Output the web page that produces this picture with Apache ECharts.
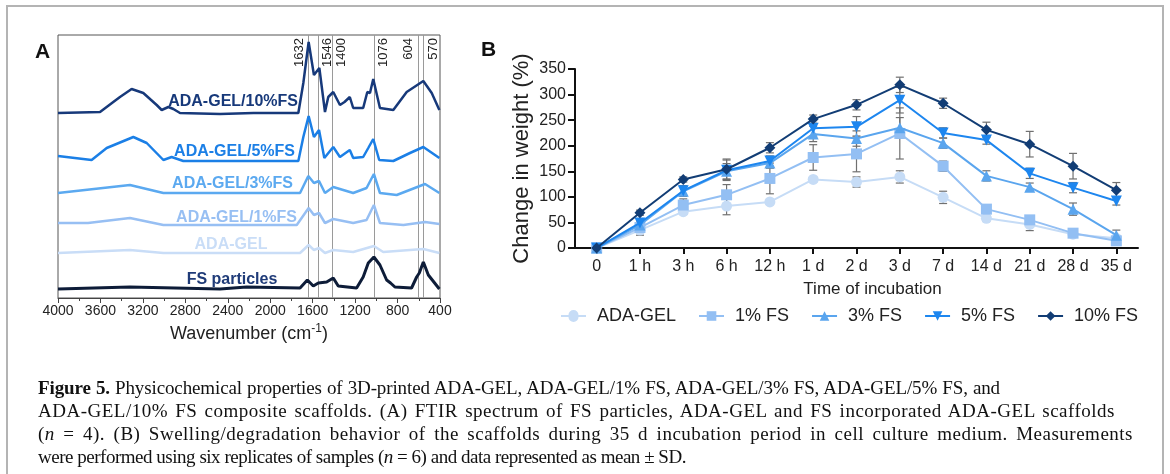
<!DOCTYPE html>
<html><head><meta charset="utf-8">
<script src="https://cdn.jsdelivr.net/npm/echarts/dist/echarts.min.js"></script>
<style>
html,body{margin:0;padding:0;background:#fff;}
#wrap{position:relative;width:1170px;height:474px;overflow:hidden;}
#c{position:absolute;left:0;top:0;width:1170px;height:474px;}
#cap{position:absolute;left:38px;top:376px;font-family:"Liberation Serif","Times New Roman",serif;font-size:19px;color:#111;z-index:5;}
#cap .ln{height:23px;line-height:23px;white-space:nowrap;overflow:visible;}
#cap .j{text-align:justify;text-align-last:justify;}
</style>
</head><body><div id="wrap"><div id="c"></div><div id="cap"></div></div>
<script>
// ---------- Panel A: FTIR spectra (wavenumber, relative intensity a.u.) ----------
const specFS10 = [[4000,185],[3604,186],[3479,196],[3416,201],[3306,209],[3196,205],[3070,193],[3023,188],[2960,191],[2913,189],[2850,185],[2473,184],[2158,185],[1735,185],[1688,215],[1638,256],[1588,223],[1537,230],[1484,186],[1453,201],[1406,206],[1343,193],[1300,196],[1250,201],[1218,190],[1124,190],[1085,206],[1060,205],[1029,219],[966,190],[840,188],[714,206],[557,217],[478,205],[406,188]];
const specFS5 = [[4000,142],[3683,138],[3541,150],[3290,161],[3164,155],[3007,138],[2929,141],[2819,137],[1735,137],[1688,161],[1638,182],[1588,161],[1540,168],[1490,140],[1406,151],[1343,141],[1250,148],[1218,140],[1124,141],[1076,150],[1029,159],[973,138],[840,137],[683,145],[557,151],[406,140]];
const specFS3 = [[4000,105],[3322,113],[3007,105],[1719,105],[1641,122],[1588,115],[1540,117],[1484,105],[1406,111],[1218,105],[1092,110],[1023,124],[966,105],[808,103],[541,114],[406,105]];
const specFS1 = [[4000,75],[3717,75],[3322,80],[3007,73],[1750,73],[1638,90],[1588,83],[1540,85],[1484,75],[1406,79],[1218,75],[1092,78],[1023,93],[966,75],[745,73],[541,76],[406,74]];
const specADA = [[4000,45],[3322,48],[3007,45],[1719,45],[1638,53],[1588,48],[1540,50],[1484,45],[1406,48],[1218,46],[1023,52],[935,46],[557,49],[406,45]];
const specFSp = [[4000,9],[3322,11],[2473,9],[2222,11],[1719,10],[1650,18],[1594,12],[1547,15],[1468,16],[1406,20],[1359,12],[1186,10],[1124,21],[1076,35],[1023,41],[966,33],[903,18],[866,15],[825,11],[668,10],[620,21],[595,25],[557,36],[510,23],[406,9]];
const peakPos = [1640, 1550, 1415, 1020, 605, 555];
const peakLabels = ['1632', '1546', '1400', '1076', '604', '570'];
const specNames = ['ADA-GEL/10%FS', 'ADA-GEL/5%FS', 'ADA-GEL/3%FS', 'ADA-GEL/1%FS', 'ADA-GEL', 'FS particles'];

// ---------- Panel B: swelling / degradation ----------
const timeLabels = ['0','1 h','3 h','6 h','12 h','1 d','2 d','3 d','7 d','14 d','21 d','28 d','35 d'];
const seriesNames = ['ADA-GEL', '1% FS', '3% FS', '5% FS', '10% FS'];
const wADA = [0, 35, 71, 82, 90, 134, 129, 139, 99, 58, 46, 27, 19];
const wFS1 = [0, 40, 84, 104, 136, 177, 184, 224, 160, 76, 55, 29, 14];
const wFS3 = [0, 45, 111, 150, 166, 223, 214, 235, 205, 141, 119, 76, 25];
const wFS5 = [0, 49, 112, 152, 170, 234, 237, 289, 225, 211, 146, 118, 92];
const wFS10 = [0, 69, 134, 154, 196, 252, 280, 319, 283, 231, 203, 160, 113];
const sdADA = [0, 10, 5, 17, 5, 5, 10, 12, 12, 5, 12, 5, 5];
const sdFS1 = [0, 10, 12, 20, 30, 25, 35, 50, 10, 8, 8, 5, 8];
const sdFS3 = [0, 8, 10, 15, 10, 15, 15, 20, 10, 10, 8, 12, 10];
const sdFS5 = [0, 5, 10, 20, 10, 15, 20, 25, 10, 8, 10, 10, 8];
const sdFS10 = [0, 5, 5, 20, 10, 8, 10, 15, 10, 15, 25, 25, 15];

const captionLines = [
  '<b>Figure 5.</b> Physicochemical properties of 3D-printed ADA-GEL, ADA-GEL/1% FS, ADA-GEL/3% FS, ADA-GEL/5% FS, and',
  'ADA-GEL/10% FS composite scaffolds. (A) FTIR spectrum of FS particles, ADA-GEL and FS incorporated ADA-GEL scaffolds',
  '(<i>n</i> = 4). (B) Swelling/degradation behavior of the scaffolds during 35 d incubation period in cell culture medium. Measurements',
  'were performed using six replicates of samples (<i>n</i> = 6) and data represented as mean ± SD.'
];
const captionWidths = [962, 1077, 1095, null];
const captionSpacing = [-0.12, 0.5, 0.5, -0.48];

const specColors = ['#17397a', '#1b7fe6', '#5ba9f0', '#97bff3', '#c9ddf7', '#0d1c38'];
const specLabelColors = ['#17397a', '#1b7fe6', '#5ba9f0', '#97bff3', '#c9ddf7', '#1f3b78'];
const lineColors = ['#c6dcf6', '#93bff3', '#5aa5ee', '#1d86ef', '#123d75'];
const symbols = ['circle', 'rect', 'triangle', 'triangle', 'diamond'];
const symbolRot = [0, 0, 0, 180, 0];
const symbolSizes = [11, 11, 11, 11, 11];
const circleLegendIcon = 'path://M0,4L7.5,4A5,5 0 0 1 17.5,4L25,4L25,6L17.5,6A5,5 0 0 1 7.5,6L0,6Z';

// caption (real text)
const cap = document.getElementById('cap');
captionLines.forEach((html, i) => {
  const d = document.createElement('div');
  d.className = 'ln' + (captionWidths[i] ? ' j' : '');
  if (captionWidths[i]) d.style.width = captionWidths[i] + 'px';
  d.style.letterSpacing = captionSpacing[i] + 'px';
  d.innerHTML = html;
  cap.appendChild(d);
});

const chart = echarts.init(document.getElementById('c'));
const SANS = '"Liberation Sans", Arial, sans-serif';

const specData = [specFS10, specFS5, specFS3, specFS1, specADA, specFSp];
const specSeries = specData.map((d, i) => ({
  type: 'line', name: specNames[i], xAxisIndex: 0, yAxisIndex: 0, data: d,
  showSymbol: false, silent: true, z: 3,
  lineStyle: {color: specColors[i], width: i === 5 ? 3 : 2.5}
}));
specSeries[5].markLine = {
  silent: true, symbol: ['none', 'none'], z: 1,
  lineStyle: {color: '#9a9a9a', width: 1, type: 'solid'},
  label: {fontSize: 13, color: '#222', fontFamily: SANS, distance: 3},
  data: peakPos.map((p, i) => ({
    xAxis: p,
    label: {formatter: peakLabels[i], position: (i === 0 || i === 4) ? 'insideEndTop' : 'insideEndBottom'}
  }))
};

const wData = [wADA, wFS1, wFS3, wFS5, wFS10];
const sdData = [sdADA, sdFS1, sdFS3, sdFS5, sdFS10];
const lineSeries = wData.map((d, i) => ({
  type: 'line', name: seriesNames[i], xAxisIndex: 1, yAxisIndex: 1, data: d,
  symbol: symbols[i], symbolSize: symbolSizes[i], symbolRotate: symbolRot[i],
  showAllSymbol: true, z: 4 + i,
  lineStyle: {color: lineColors[i], width: 2},
  itemStyle: {color: lineColors[i], borderColor: lineColors[i], borderWidth: 0}
}));
const errSeries = wData.map((d, i) => ({
  type: 'custom', xAxisIndex: 1, yAxisIndex: 1, silent: true, z: 3,
  data: d.map((v, k) => [k, v - sdData[i][k], v + sdData[i][k]]).filter((x, k) => sdData[i][k] > 0),
  renderItem: (params, api) => {
    const lo = api.coord([api.value(0), api.value(1)]);
    const hi = api.coord([api.value(0), api.value(2)]);
    const w = 4;
    const st = {stroke: '#707070', lineWidth: 1.2};
    return {type: 'group', children: [
      {type: 'line', shape: {x1: lo[0], y1: lo[1], x2: hi[0], y2: hi[1]}, style: st},
      {type: 'line', shape: {x1: lo[0] - w, y1: lo[1], x2: lo[0] + w, y2: lo[1]}, style: st},
      {type: 'line', shape: {x1: hi[0] - w, y1: hi[1], x2: hi[0] + w, y2: hi[1]}, style: st}
    ]};
  }
}));

const specLabelPos = [
  {x: 298, y: 102, align: 'right'}, {x: 295, y: 152, align: 'right'}, {x: 293, y: 184, align: 'right'},
  {x: 297, y: 218, align: 'right'}, {x: 231, y: 245, align: 'center'}, {x: 232, y: 280, align: 'center'}
];
const graphics = [
  {type: 'rect', shape: {x: 7, y: 6, width: 1156, height: 480}, style: {fill: 'none', stroke: '#b4b4b4', lineWidth: 2}, silent: true},
  {type: 'text', x: 35, y: 52, style: {text: 'A', font: 'bold 21px ' + SANS, fill: '#111', verticalAlign: 'middle'}},
  {type: 'text', x: 481, y: 50, style: {text: 'B', font: 'bold 21px ' + SANS, fill: '#111', verticalAlign: 'middle'}}
];
specNames.forEach((n, i) => {
  graphics.push({type: 'text', x: specLabelPos[i].x, y: specLabelPos[i].y, z: 10,
    style: {text: n, font: 'bold 16px ' + SANS, fill: specLabelColors[i], align: specLabelPos[i].align, verticalAlign: 'middle'}});
});

chart.setOption({
  animation: false,
  backgroundColor: '#fff',
  textStyle: {fontFamily: SANS},
  grid: [
    {left: 58, top: 35, width: 382, height: 263, show: true, borderColor: '#555', borderWidth: 1, backgroundColor: 'transparent'},
    {left: 575, top: 69, width: 563, height: 179}
  ],
  xAxis: [
    {type: 'value', gridIndex: 0, min: 400, max: 4000, interval: 400, inverse: true,
     axisLine: {show: true, lineStyle: {color: '#444', width: 1}},
     axisTick: {show: true, length: 5, lineStyle: {color: '#444'}},
     minorTick: {show: true, splitNumber: 2, length: 3, lineStyle: {color: '#444'}},
     splitLine: {show: false},
     axisLabel: {fontSize: 14, color: '#222', margin: 6, formatter: v => String(v)},
     name: '{a|Wavenumber (cm}{s|-1}{a|)}', nameLocation: 'middle', nameGap: 21,
     nameTextStyle: {rich: {a: {fontSize: 18, color: '#222'}, s: {fontSize: 12, color: '#222', padding: [0, 0, 10, 0]}}}},
    {type: 'category', gridIndex: 1, data: timeLabels, boundaryGap: true,
     axisLine: {show: true, lineStyle: {color: '#111', width: 2}},
     axisTick: {show: true, alignWithLabel: true, length: 6, lineStyle: {color: '#111', width: 2}},
     axisLabel: {fontSize: 16, color: '#222', margin: 11},
     name: 'Time of incubation', nameLocation: 'middle', nameGap: 33,
     nameTextStyle: {fontSize: 17, color: '#222', padding: [0, 0, 0, 32]}}
  ],
  yAxis: [
    {type: 'value', gridIndex: 0, min: 0, max: 263, show: false, splitLine: {show: false}},
    {type: 'value', gridIndex: 1, min: 0, max: 350, interval: 50,
     axisLine: {show: true, lineStyle: {color: '#111', width: 2}},
     axisTick: {show: true, length: 7, lineStyle: {color: '#111', width: 2}},
     splitLine: {show: false},
     axisLabel: {fontSize: 16, color: '#222', margin: 9},
     name: 'Change in weight (%)', nameLocation: 'middle', nameGap: 42,
     nameTextStyle: {fontSize: 22, color: '#222'}}
  ],
  legend: {left: 556, top: 302, itemWidth: 25, itemHeight: 12, itemGap: 22,
    data: seriesNames.map((n, i) => {
      const item = {name: n, itemStyle: {color: lineColors[i], borderColor: lineColors[i], borderWidth: 0}};
      if (i === 0) item.icon = circleLegendIcon;
      return item;
    }),
    textStyle: {fontSize: 18, color: '#222', padding: [0, 0, 0, 6]}},
  graphic: graphics,
  series: [...specSeries, ...errSeries, ...lineSeries]
});
</script></body></html>
